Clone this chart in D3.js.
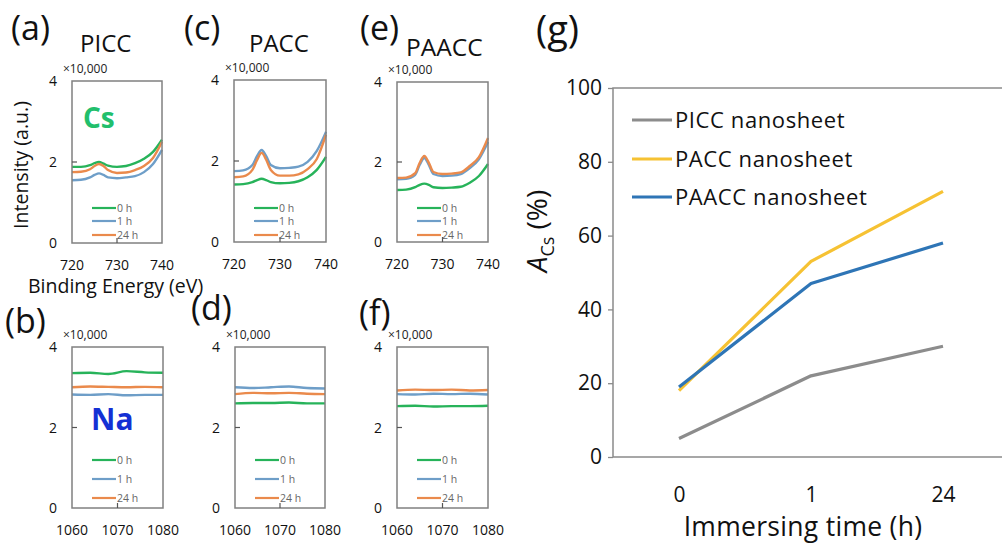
<!DOCTYPE html>
<html><head><meta charset="utf-8">
<script src="https://cdn.jsdelivr.net/npm/d3@7"></script>
<style>body{margin:0;background:#fff}svg{display:block}text{font-family:"Open Sans",sans-serif}</style>
</head><body><svg id="c" width="1002" height="545"></svg>
<script>
// ---------- data ----------
const seriesLabels = ["0 h", "1 h", "24 h"];
const seriesColors = ["#27b35a", "#6e9ec8", "#ea8a4c"];
const csEnergy = [720,722,724,725,726,727,728,730,732,734,736,738,740];
const csTicks = [720,730,740];
const naEnergy = [1060,1064,1068,1072,1076,1080];
const naTicks = [1060,1070,1080];
const intensityTicks = [0,2,4];
// Cs 3d spectra (x10,000)
const piccCs0 = [1.88,1.88,1.92,1.97,2.0,1.96,1.91,1.88,1.9,1.97,2.08,2.25,2.55];
const piccCs1 = [1.55,1.56,1.62,1.68,1.72,1.68,1.62,1.6,1.62,1.65,1.75,1.95,2.3];
const piccCs24 = [1.75,1.76,1.82,1.9,1.95,1.9,1.8,1.73,1.74,1.8,1.9,2.1,2.5];
const paccCs0 = [1.42,1.43,1.48,1.53,1.56,1.53,1.48,1.45,1.46,1.5,1.6,1.78,2.1];
const paccCs1 = [1.75,1.77,1.9,2.12,2.27,2.12,1.9,1.82,1.83,1.86,1.98,2.25,2.72];
const paccCs24 = [1.6,1.62,1.78,2.02,2.2,2.03,1.78,1.64,1.64,1.67,1.8,2.05,2.65];
const paaccCs0 = [1.3,1.31,1.37,1.43,1.46,1.43,1.37,1.35,1.36,1.38,1.48,1.65,1.95];
const paaccCs1 = [1.57,1.58,1.68,1.93,2.1,1.93,1.7,1.65,1.66,1.7,1.85,2.07,2.5];
const paaccCs24 = [1.6,1.61,1.72,1.98,2.15,1.98,1.75,1.7,1.71,1.74,1.9,2.12,2.6];
// Na 1s spectra (x10,000)
const piccNa0 = [3.35,3.36,3.33,3.4,3.37,3.36];
const piccNa1 = [2.82,2.81,2.83,2.8,2.81,2.81];
const piccNa24 = [3.0,3.02,3.01,3.0,3.01,3.0];
const paccNa0 = [2.6,2.61,2.61,2.62,2.6,2.6];
const paccNa1 = [3.0,2.98,3.0,3.02,2.98,2.97];
const paccNa24 = [2.83,2.86,2.85,2.86,2.84,2.83];
const paaccNa0 = [2.53,2.54,2.52,2.53,2.53,2.54];
const paaccNa1 = [2.83,2.82,2.84,2.83,2.84,2.82];
const paaccNa24 = [2.92,2.94,2.93,2.94,2.92,2.93];
// panel (g)
const timeCats = ["0","1","24"];
const acsTicks = [0,20,40,60,80,100];
const acsNames = ["PICC nanosheet","PACC nanosheet","PAACC nanosheet"];
const acsColors = ["#8c8c8c","#f6c233","#2e75b6"];
const acsPICC = [5,22,30];
const acsPACC = [18,53,72];
const acsPAACC = [19,47,58];

// ---------- drawing ----------
const svg = d3.select("#c");
const box = "#808080";

function spectrum(o){
  const g = svg.append("g");
  const x = d3.scaleLinear().domain(o.xdom).range([o.l, o.r]);
  const y = d3.scaleLinear().domain([0,4]).range([o.b, o.t]);
  const line = d3.line().x((d,i)=>x(o.xs[i])).y(d=>y(d)).curve(d3.curveMonotoneX);
  o.series.forEach((s,k)=>{
    g.append("path").attr("d", line(s)).attr("fill","none")
      .attr("stroke", seriesColors[k]).attr("stroke-width",2.4);
  });
  g.append("rect").attr("x",o.l).attr("y",o.t).attr("width",o.r-o.l).attr("height",o.b-o.t)
    .attr("fill","none").attr("stroke",box).attr("stroke-width",1.5);
  g.append("line").attr("x1",o.l).attr("x2",o.l+5).attr("y1",y(2)).attr("y2",y(2)).attr("stroke","#555").attr("stroke-width",1.2);
  g.append("line").attr("x1",x(o.ticks[1])).attr("x2",x(o.ticks[1])).attr("y1",o.b).attr("y2",o.b-5).attr("stroke","#555").attr("stroke-width",1.2);
  intensityTicks.forEach(v=>{
    g.append("text").attr("x",o.l-15).attr("y",y(v)).attr("dy","0.36em").attr("text-anchor","end")
      .attr("font-size",14).attr("fill","#111").text(v);
  });
  o.ticks.forEach(v=>{
    g.append("text").attr("x",x(v)).attr("y",o.b+27).attr("text-anchor","middle")
      .attr("font-size",14).attr("fill","#111").text(v);
  });
  g.append("text").attr("x",o.l-9).attr("y",o.t-8).attr("font-size",12).attr("fill","#222").text("×10,000");
  o.legY.forEach((yy,k)=>{
    g.append("line").attr("x1",o.l+20).attr("x2",o.l+44).attr("y1",yy).attr("y2",yy)
      .attr("stroke",seriesColors[k]).attr("stroke-width",2.2);
    g.append("text").attr("x",o.l+45).attr("y",yy).attr("dy","0.35em").attr("font-size",10.5)
      .attr("fill","#666").text(seriesLabels[k]);
  });
}

const csLeg = [208,221,235];
const naLeg = [460,479,498];
spectrum({l:72,r:162,t:81,b:243,xdom:[720,740],xs:csEnergy,ticks:csTicks,series:[piccCs0,piccCs1,piccCs24],legY:csLeg});
spectrum({l:234,r:326,t:80,b:242,xdom:[720,740],xs:csEnergy,ticks:csTicks,series:[paccCs0,paccCs1,paccCs24],legY:csLeg});
spectrum({l:397,r:488,t:82,b:242,xdom:[720,740],xs:csEnergy,ticks:csTicks,series:[paaccCs0,paaccCs1,paaccCs24],legY:csLeg});
spectrum({l:72,r:163,t:347,b:508,xdom:[1060,1080],xs:naEnergy,ticks:naTicks,series:[piccNa0,piccNa1,piccNa24],legY:naLeg});
spectrum({l:235,r:325,t:347,b:508,xdom:[1060,1080],xs:naEnergy,ticks:naTicks,series:[paccNa0,paccNa1,paccNa24],legY:naLeg});
spectrum({l:397,r:488,t:347,b:508,xdom:[1060,1080],xs:naEnergy,ticks:naTicks,series:[paaccNa0,paaccNa1,paaccNa24],legY:naLeg});

function txt(x,y,s,size,extra){
  const t = svg.append("text").attr("x",x).attr("y",y).attr("font-size",size).attr("fill","#111").text(s);
  if(extra) extra(t);
  return t;
}
txt(11,40,"(a)",34); txt(80,52,"PICC",24);
txt(184,40,"(c)",34); txt(249,52,"PACC",24);
txt(360,40,"(e)",34); txt(406,56,"PAACC",24.5);
txt(5,333,"(b)",34);
txt(191,320,"(d)",34);
txt(359,325,"(f)",34);
txt(536,43,"(g)",38,t=>t.attr("font-family","Liberation Serif, serif"));
txt(83,128,"Cs",28,t=>t.attr("font-weight","bold").attr("fill","#22bf6c"));
txt(91,430,"Na",30,t=>t.attr("font-weight","bold").attr("fill","#1430d4"));
txt(28,293,"Binding Energy (eV)",19.5);
svg.append("text").attr("transform","translate(28,165) rotate(-90)").attr("text-anchor","middle")
  .attr("font-size",19.5).attr("fill","#111").text("Intensity (a.u.)");

// ---------- panel (g) ----------
const gx = d3.scalePoint().domain(timeCats).range([613,1009]).padding(0.5);
const gy = d3.scaleLinear().domain([0,100]).range([457,88]);
const G = svg.append("g");
G.append("rect").attr("x",613).attr("y",88).attr("width",396).attr("height",369)
  .attr("fill","none").attr("stroke","#8a8a8a").attr("stroke-width",1.5);
const yAx = G.append("g").attr("transform","translate(613,0)")
  .call(d3.axisLeft(gy).tickValues(acsTicks).tickSize(5).tickPadding(6));
yAx.select(".domain").remove();
yAx.selectAll("line").attr("stroke","#8a8a8a").attr("stroke-width",1.3);
yAx.selectAll("text").attr("font-size",21).attr("fill","#111").attr("font-family","Open Sans, sans-serif");
const xAx = G.append("g").attr("transform","translate(0,457)")
  .call(d3.axisBottom(gx).tickSize(0).tickPadding(30));
xAx.select(".domain").remove();
xAx.selectAll("text").attr("font-size",21).attr("fill","#111").attr("font-family","Open Sans, sans-serif");
const gl = d3.line().x((d,i)=>gx(timeCats[i])).y(d=>gy(d));
[acsPICC,acsPACC,acsPAACC].forEach((s,k)=>{
  G.append("path").attr("d",gl(s)).attr("fill","none").attr("stroke",acsColors[k]).attr("stroke-width",3.2)
   .attr("stroke-linejoin","round");
});
const legRows = [120,159,197];
acsNames.forEach((n,k)=>{
  G.append("line").attr("x1",632).attr("x2",672).attr("y1",legRows[k]).attr("y2",legRows[k])
    .attr("stroke",acsColors[k]).attr("stroke-width",3.2);
  G.append("text").attr("x",675).attr("y",legRows[k]).attr("dy","0.36em").attr("font-size",22)
    .attr("letter-spacing",0.6).attr("fill","#111").text(n);
});
G.append("text").attr("x",803).attr("y",536).attr("text-anchor","middle").attr("font-size",26.5)
  .attr("letter-spacing",0.3).attr("fill","#111").text("Immersing time (h)");
const yt = G.append("text").attr("transform","translate(547,231) rotate(-90)").attr("text-anchor","middle")
  .attr("font-size",28).attr("fill","#111");
yt.append("tspan").attr("font-style","italic").text("A");
yt.append("tspan").attr("font-size",18).attr("dy",7).text("Cs");
yt.append("tspan").attr("dy",-7).text(" (%)");
</script></body></html>
